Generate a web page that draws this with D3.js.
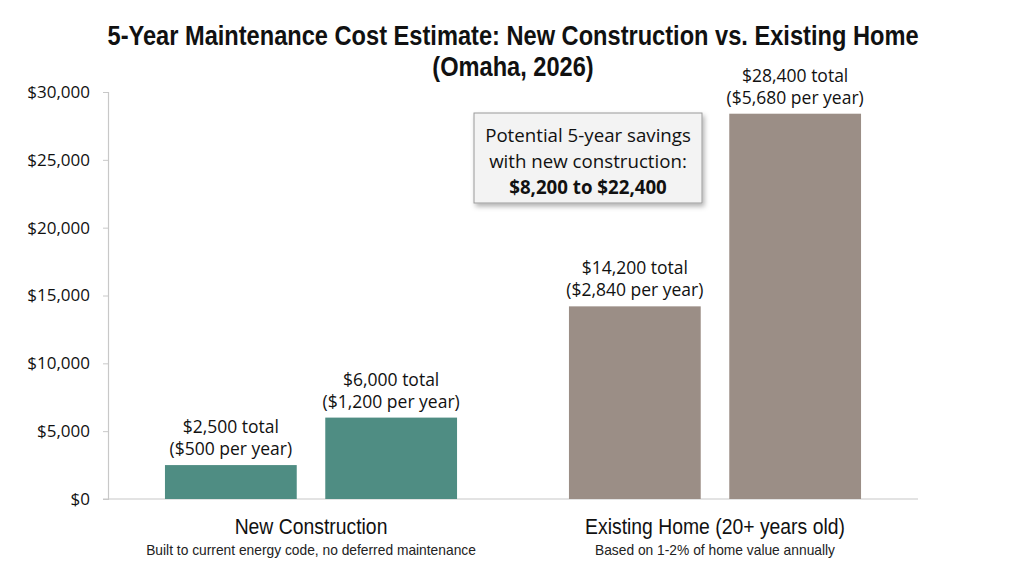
<!DOCTYPE html>
<html>
<head>
<meta charset="utf-8">
<script src="https://cdn.jsdelivr.net/npm/d3@7"></script>
<style>
  body { margin: 0; background: #fff; }
  svg { display: block; }
</style>
</head>
<body>
<main></main>
<script>
// chart data
let groups = ['New Construction', 'Existing Home (20+ years old)'];
let groupNotes = [
  'Built to current energy code, no deferred maintenance',
  'Based on 1-2% of home value annually'
];
let totals = [[2500, 6000], [14200, 28400]];
let perYear = [[500, 1200], [2840, 5680]];
let groupColors = ['#4f8d83', '#9b8e86'];
let yTicks = [0, 5000, 10000, 15000, 20000, 25000, 30000];
let titleLines = [
  '5-Year Maintenance Cost Estimate: New Construction vs. Existing Home',
  '(Omaha, 2026)'
];
let noteLines = ['Potential 5-year savings', 'with new construction:', '$8,200 to $22,400'];

let width = 1024;
let height = 576;
let margin = { top: 92, left: 108, bottom: 77, right: 106 };

let svg = d3.select('main')
  .append('svg')
  .attr('width', width)
  .attr('height', height);

let money = d3.format('$,');

// the reference uses a condensed face: squeeze centred text around its anchor
function condensedText(parent, cx, cy, f) {
  return parent.append('text')
    .attr('text-anchor', 'middle')
    .attr('transform', (d, i) => `translate(${typeof cx === 'function' ? cx(d, i) : cx},${typeof cy === 'function' ? cy(d, i) : cy}) scale(${f},1)`);
}

let x = d3.scaleBand()
  .domain(groups)
  .range([margin.left, width - margin.right])
  .paddingInner(0.277)
  .paddingOuter(0.141);

let xInner = d3.scaleBand()
  .domain([0, 1])
  .range([0, x.bandwidth()])
  .paddingInner(0.178);

let y = d3.scaleLinear()
  .domain([0, 30000])
  .range([height - margin.bottom, margin.top]);

// title
let titleSel = svg.append('g')
  .selectAll('g')
  .data(titleLines)
  .enter().append('g');

condensedText(titleSel, width / 2 + 1, (d, i) => 45 + i * 31, 0.875)
  .style('font-family', '"Liberation Sans", Arial, sans-serif')
  .style('font-weight', 'bold')
  .style('font-size', '27px')
  .style('fill', '#111')
  .text(d => d);

// y axis
let yAxis = svg.append('g')
  .attr('transform', `translate(${margin.left},0)`)
  .call(d3.axisLeft(y).tickValues(yTicks).tickFormat(money).tickSize(5).tickPadding(13));

yAxis.select('.domain').attr('stroke', '#c8c8c8').attr('stroke-width', 1.2);
yAxis.selectAll('.tick line').attr('stroke', '#c8c8c8');
yAxis.selectAll('.tick text')
  .style('font-family', '"Open Sans", sans-serif')
  .style('font-size', '17px')
  .style('fill', '#111');

// baseline
svg.append('line')
  .attr('x1', margin.left - 5)
  .attr('x2', width - margin.right)
  .attr('y1', y(0))
  .attr('y2', y(0))
  .attr('stroke', '#c8c8c8')
  .attr('stroke-width', 1.2);

// bars
let groupG = svg.selectAll('.group')
  .data(groups)
  .enter().append('g')
  .attr('class', 'group')
  .attr('transform', d => `translate(${x(d)},0)`);

groupG.each(function (g, gi) {
  let bars = totals[gi].map((v, i) => ({ v: v, py: perYear[gi][i], i: i }));
  let sel = d3.select(this);

  sel.selectAll('rect')
    .data(bars)
    .enter().append('rect')
    .attr('x', d => xInner(d.i))
    .attr('y', d => y(d.v))
    .attr('width', xInner.bandwidth())
    .attr('height', d => y(0) - y(d.v))
    .attr('fill', groupColors[gi]);

  let labels = sel.selectAll('.val')
    .data(bars)
    .enter().append('text')
    .attr('class', 'val')
    .attr('text-anchor', 'middle')
    .style('font-family', '"Open Sans", sans-serif')
    .style('font-size', '17.5px')
    .style('fill', '#111');

  labels.append('tspan')
    .attr('x', d => xInner(d.i) + xInner.bandwidth() / 2)
    .attr('y', d => y(d.v) - 32)
    .text(d => money(d.v) + ' total');
  labels.append('tspan')
    .attr('x', d => xInner(d.i) + xInner.bandwidth() / 2)
    .attr('y', d => y(d.v) - 10)
    .text(d => '(' + money(d.py) + ' per year)');
});

// category labels
condensedText(groupG, x.bandwidth() / 2, 534, 0.88)
  .style('font-family', '"Liberation Sans", Arial, sans-serif')
  .style('font-size', '22px')
  .style('fill', '#111')
  .text(d => d);

condensedText(groupG, x.bandwidth() / 2, 555, 0.92)
  .style('font-family', '"Liberation Sans", Arial, sans-serif')
  .style('font-size', '15px')
  .style('fill', '#222')
  .text((d, i) => groupNotes[i]);

// savings note
let defs = svg.append('defs');
let shadow = defs.append('filter').attr('id', 'shadow')
  .attr('x', '-10%').attr('y', '-10%').attr('width', '125%').attr('height', '135%');
shadow.append('feDropShadow')
  .attr('dx', 2).attr('dy', 3).attr('stdDeviation', 2.5)
  .attr('flood-color', '#000').attr('flood-opacity', 0.3);

let note = svg.append('g').attr('transform', 'translate(474,113)');
note.append('rect')
  .attr('width', 228)
  .attr('height', 90)
  .attr('fill', '#f3f3f3')
  .attr('stroke', '#9a9a9a')
  .attr('stroke-width', 1)
  .attr('filter', 'url(#shadow)');

note.selectAll('text')
  .data(noteLines)
  .enter().append('text')
  .attr('x', 114)
  .attr('y', (d, i) => 29 + i * 26)
  .attr('text-anchor', 'middle')
  .style('font-family', '"Open Sans", sans-serif')
  .style('font-size', '18.7px')
  .style('font-weight', (d, i) => i === 2 ? 'bold' : 'normal')
  .style('fill', '#111')
  .text(d => d);
</script>
</body>
</html>
